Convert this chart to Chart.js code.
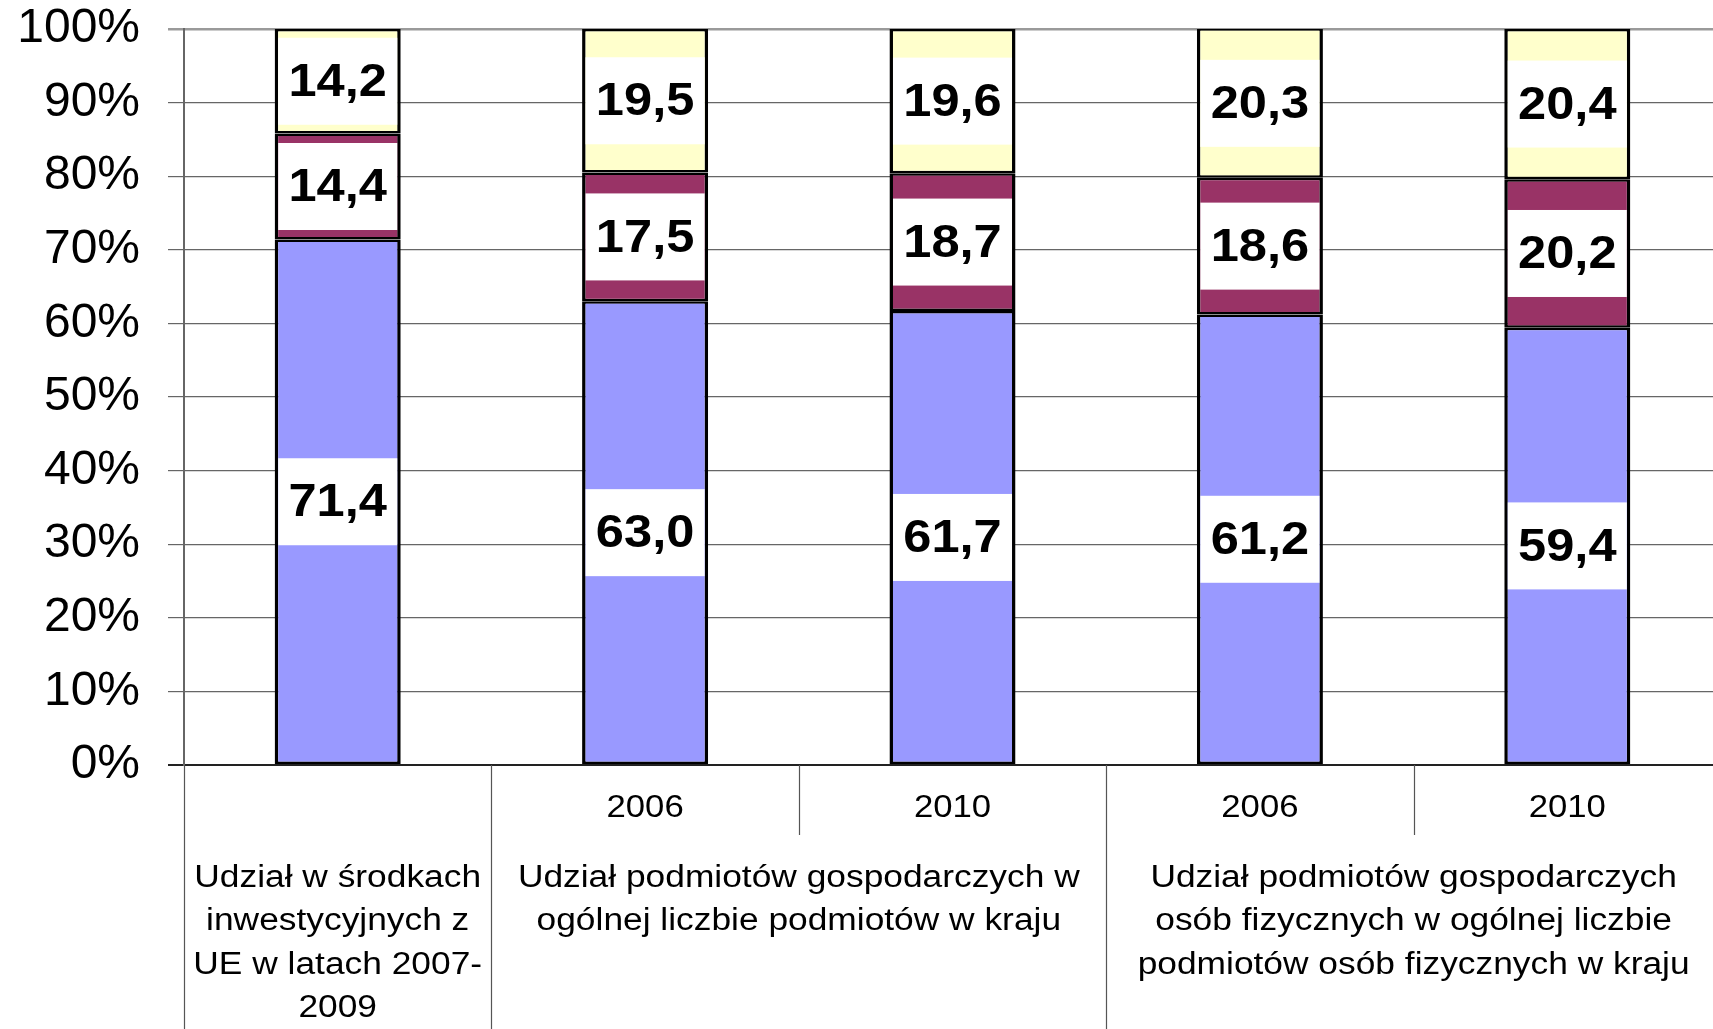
<!DOCTYPE html>
<html>
<head>
<meta charset="utf-8">
<script src="https://cdn.jsdelivr.net/npm/chart.js@4/dist/chart.umd.min.js"></script>
<style>
  html, body { margin: 0; padding: 0; background: #fff; overflow: hidden; }
  #wrap { width: 1725px; height: 1029px; }
  canvas { display: block; }
</style>
</head>
<body>
<div id="wrap"><canvas id="myChart" width="1725" height="1029"></canvas></div>
<script>
// years shown under the bars (first bar has no year)
const yearLabels = ['', '2006', '2010', '2006', '2010'];

// group captions and how many bars each one spans
const groupLabels = [
  ['Udział w środkach', 'inwestycyjnych z', 'UE w latach 2007-', '2009'],
  ['Udział podmiotów gospodarczych w', 'ogólnej liczbie podmiotów w kraju'],
  ['Udział podmiotów gospodarczych', 'osób fizycznych w ogólnej liczbie', 'podmiotów osób fizycznych w kraju']
];
const groupSpans = [1, 2, 2];

// stacked shares (%)
const seriesA = [71.4, 63.0, 61.7, 61.2, 59.4];
const seriesB = [14.4, 17.5, 18.7, 18.6, 20.2];
const seriesC = [14.2, 19.5, 19.6, 20.3, 20.4];

const yTicks = [0, 10, 20, 30, 40, 50, 60, 70, 80, 90, 100];

const FONT = "'Liberation Sans', Arial, sans-serif";
const STRETCH = 1.14;

function fmt(v) {
  return v.toFixed(1).replace('.', ',');
}

function stretchedText(ctx, text, x, y, s) {
  ctx.save();
  ctx.translate(x, y);
  ctx.scale(s || STRETCH, 1);
  ctx.fillText(text, 0, 0);
  ctx.restore();
}

const boxLabels = {
  id: 'boxLabels',
  afterDatasetsDraw(chart) {
    const ctx = chart.ctx;
    ctx.save();
    chart.data.datasets.forEach((ds, di) => {
      const meta = chart.getDatasetMeta(di);
      meta.data.forEach((bar, i) => {
        const top = Math.max(bar.y, chart.chartArea.top);
        const cy = (top + bar.base) / 2;
        const w = bar.width - 7;
        const h = 87;
        ctx.fillStyle = '#ffffff';
        ctx.fillRect(bar.x - w / 2, cy - h / 2, w, h);
        ctx.fillStyle = '#000';
        ctx.font = 'bold 46px ' + FONT;
        ctx.textAlign = 'center';
        ctx.textBaseline = 'middle';
        stretchedText(ctx, fmt(ds.data[i]), bar.x, cy + 2, 1.1);
      });
    });
    ctx.restore();
  }
};

const groupAxis = {
  id: 'groupAxis',
  afterDraw(chart) {
    const ctx = chart.ctx;
    const x = chart.scales.x;
    const bottom = chart.chartArea.bottom;
    const n = yearLabels.length;
    const cw = (x.right - x.left) / n;
    ctx.save();
    ctx.strokeStyle = '#555';
    ctx.lineWidth = 1.2;
    let start = 0;
    const groupEdges = [0];
    groupSpans.forEach(s => { start += s; groupEdges.push(start); });
    for (let i = 0; i < n; i++) {
      const px = Math.round(x.left + i * cw) + 0.5;
      const yEnd = groupEdges.indexOf(i) >= 0 ? chart.height : bottom + 70;
      ctx.beginPath();
      ctx.moveTo(px, bottom);
      ctx.lineTo(px, yEnd);
      ctx.stroke();
    }
    ctx.fillStyle = '#000';
    ctx.textAlign = 'center';
    ctx.textBaseline = 'middle';
    // years
    ctx.font = '31px ' + FONT;
    yearLabels.forEach((yr, i) => {
      if (yr) stretchedText(ctx, yr, x.getPixelForValue(i), bottom + 43, 1.12);
    });
    // group captions
    let idx = 0;
    groupLabels.forEach((lines, g) => {
      const cx = x.left + (idx + groupSpans[g] / 2) * cw;
      idx += groupSpans[g];
      lines.forEach((line, k) => {
        stretchedText(ctx, line, cx, bottom + 113 + k * 43.5);
      });
    });
    ctx.restore();
  }
};

const ctx = document.getElementById('myChart').getContext('2d');

new Chart(ctx, {
  type: 'bar',
  data: {
    labels: yearLabels,
    datasets: [
      { label: 'A', data: seriesA, backgroundColor: '#9999FF' },
      { label: 'B', data: seriesB, backgroundColor: '#993366' },
      { label: 'C', data: seriesC, backgroundColor: '#FFFFCC' }
    ].map(d => Object.assign(d, {
      borderColor: '#000',
      borderWidth: { top: 2.5, bottom: 2.5, left: 3.5, right: 3.5 },
      borderSkipped: false,
      categoryPercentage: 1,
      barPercentage: 0.41
    }))
  },
  options: {
    responsive: false,
    animation: false,
    layout: { padding: { top: 29, right: 4, left: 0, bottom: 0 } },
    plugins: {
      legend: { display: false },
      tooltip: { enabled: false }
    },
    scales: {
      x: {
        stacked: true,
        grid: { display: false, drawTicks: false },
        border: { display: true, color: '#222', width: 2 },
        ticks: { display: false },
        afterFit(scale) {
          scale.height = 264;
          scale.paddingLeft = 0;
          scale.paddingRight = 0;
        }
      },
      y: {
        stacked: true,
        min: 0,
        max: 100,
        afterBuildTicks(scale) { scale.ticks = yTicks.map(v => ({ value: v })); },
        grid: {
          color: c => c.tick && c.tick.value === 100 ? '#9a9a9a' : (c.tick && c.tick.value === 0 ? '#222' : '#666'),
          lineWidth: c => c.tick && c.tick.value === 100 ? 2.5 : (c.tick && c.tick.value === 0 ? 2 : 1.2),
          tickLength: 16
        },
        border: { display: true, color: '#666', width: 2 },
        ticks: {
          padding: 28,
          color: '#000',
          font: { family: FONT, size: 48 },
          callback: v => v + '%'
        },
        afterFit(scale) {
          scale.width = 184;
          scale.paddingTop = 0;
          scale.paddingBottom = 0;
        }
      }
    }
  },
  plugins: [boxLabels, groupAxis]
});
</script>
</body>
</html>
